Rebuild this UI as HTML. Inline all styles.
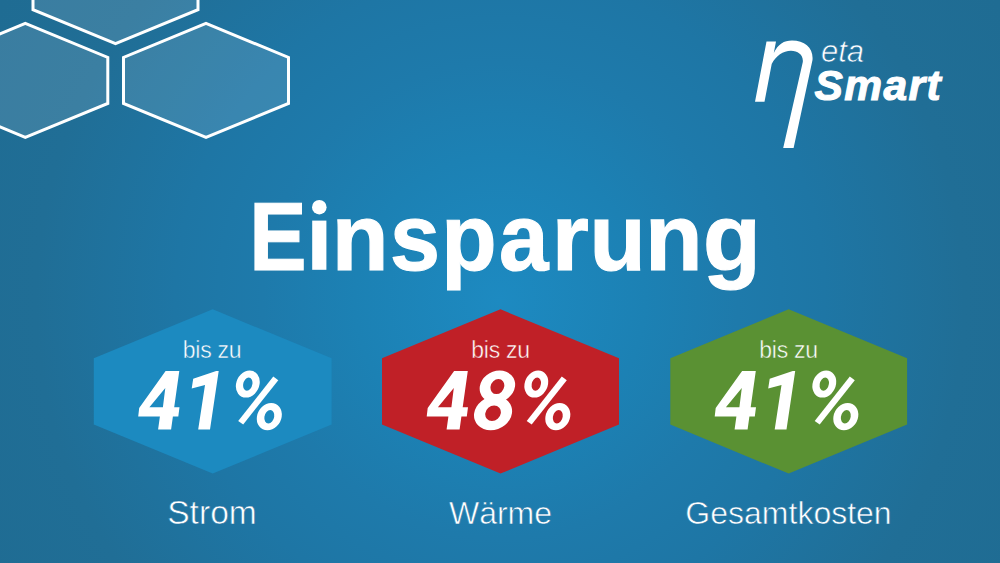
<!DOCTYPE html>
<html><head><meta charset="utf-8">
<style>
html,body{margin:0;padding:0;width:1000px;height:563px;overflow:hidden;}
body{background:radial-gradient(circle 580px at 500px 300px,#1d8ac1 0%,#1c81b4 25%,#1e7aab 41%,#1e76a5 56%,#206e96 80%,#1f6c93 100%);}
svg{display:block;position:absolute;left:0;top:0;}
</style></head>
<body>
<svg width="1000" height="563" viewBox="0 0 1000 563">
  <!-- top-left hexagons -->
  <g fill="rgba(255,255,255,0.12)" stroke="#fff" stroke-width="3" stroke-linejoin="miter">
    <polygon points="115.5,-70.3 198,-36.3 198,9.7 115.5,43.7 33,9.7 33,-36.3"/>
    <polygon points="25.3,23.4 107.8,57.4 107.8,103.4 25.3,137.4 -57.2,103.4 -57.2,57.4"/>
    <polygon points="206,23.4 288.5,57.4 288.5,103.4 206,137.4 123.5,103.4 123.5,57.4"/>
  </g>
  <!-- logo -->
  <g fill="#fff">
    <path d="M766.5,41.6 L776,41.6 L764.5,101.7 L755,101.7 Z M773.8,53 C778,44 784,40.4 792,40.4 C805,40.4 813.5,48 812.5,60 L793.6,147.9 L783.2,147.9 L802.8,62 C803.5,55 798,50.8 791,50.8 C783,50.8 776,56 771.7,64 Z"/>
    <text x="821" y="62" font-family="Liberation Sans" font-size="31" font-style="italic" stroke="#1f73a2" stroke-width="0.65">eta</text>
    <text x="814.5" y="99.6" font-family="Liberation Sans" font-size="42.5" font-weight="bold" font-style="italic" letter-spacing="1.4" stroke="#fff" stroke-width="1.1">Smart</text>
  </g>
  <!-- title -->
  <g fill="#fff" stroke="#fff" stroke-width="1.2" font-family="Liberation Sans" font-weight="bold" font-size="97" text-anchor="middle">
    <text transform="translate(277.8,269.8) scale(0.885,1)">E</text>
    <text transform="translate(360.2,269.8) scale(0.958,0.968)">n</text>
    <text transform="translate(415.0,269.8) scale(0.928,0.968)">s</text>
    <text transform="translate(468.8,269.8) scale(0.934,0.968)">p</text>
    <text transform="translate(523.7,269.8) scale(0.917,0.968)">a</text>
    <text transform="translate(570.3,269.8) scale(0.981,0.968)">r</text>
    <text transform="translate(617.7,269.8) scale(0.948,0.968)">u</text>
    <text transform="translate(673.7,269.8) scale(0.973,0.968)">n</text>
    <text transform="translate(732.0,269.8) scale(0.975,0.968)">g</text>
  </g>
  <rect x="312.2" y="220.6" width="14.2" height="49.2" fill="#fff"/>
  <circle cx="319.3" cy="207.2" r="7.3" fill="#fff"/>
  <!-- hexes -->
  <polygon points="212.7,309.3 331.6,358.3 331.6,424.6 212.7,473.6 93.8,424.6 93.8,358.3" fill="#1c8ac0"/>
  <polygon points="500.5,309.3 619,358.3 619,424.6 500.5,473.6 382,424.6 382,358.3" fill="#c02027"/>
  <polygon points="788.7,309.3 907.1,358.3 907.1,424.6 788.7,473.6 670.3,424.6 670.3,358.3" fill="#5a9133"/>
  <g fill="#fff" font-family="Liberation Sans" text-anchor="middle">
    <text x="212" y="357.5" font-size="23" letter-spacing="-0.3" stroke="#1c8ac0" stroke-width="0.45">bis zu</text>
    <text x="500.5" y="357.5" font-size="23" letter-spacing="-0.3" stroke="#c02027" stroke-width="0.45">bis zu</text>
    <text x="788.5" y="357.5" font-size="23" letter-spacing="-0.3" stroke="#5a9133" stroke-width="0.45">bis zu</text>
    <text x="212" y="523.6" font-size="33.6" stroke="#1e75a4" stroke-width="0.6">Strom</text>
    <text x="500.5" y="523.8" font-size="32" stroke="#1e7aab" stroke-width="0.6">Wärme</text>
    <text x="788.5" y="523.8" font-size="32" stroke="#1e75a4" stroke-width="0.6">Gesamtkosten</text>
  </g>
  <g fill="#fff">
    <g transform="translate(138.2,0)"><path d="M27.4,371 L41.1,371 L36.0,407.3 L41.3,407.3 L40.1,416.6 L34.7,416.6 L32.9,429.4 L19.9,429.4 L21.7,416.6 L0,416.6 L1.0,407.9 Z M27.1,388 L11.2,407.3 L24.7,407.3 Z" fill-rule="evenodd"/></g>
    <g transform="translate(138.2,0)"><path d="M80.5,371 L78,371 L55,378.7 L53.5,388.6 L66.8,384.9 L60,429.4 L71.8,429.4 Z"/></g>
    <g transform="translate(138.2,0)"><path transform="translate(109.6,384.1) skewX(-8)" fill-rule="evenodd" d="M-11.8,0 A11.8,13.5 0 1 0 11.8,0 A11.8,13.5 0 1 0 -11.8,0 Z M-4.6,0 A4.6,6.6 0 1 0 4.6,0 A4.6,6.6 0 1 0 -4.6,0 Z"/>
      <path transform="translate(131.1,416.7) skewX(-8)" fill-rule="evenodd" d="M-12.4,0 A12.4,13.6 0 1 0 12.4,0 A12.4,13.6 0 1 0 -12.4,0 Z M-4.9,0 A4.9,6.8 0 1 0 4.9,0 A4.9,6.8 0 1 0 -4.9,0 Z"/>
      <path d="M135.1,376.4 L140.1,380.2 L105,424.5 L100,421 Z"/></g>
    <g transform="translate(426.7,0)"><path d="M27.4,371 L41.1,371 L36.0,407.3 L41.3,407.3 L40.1,416.6 L34.7,416.6 L32.9,429.4 L19.9,429.4 L21.7,416.6 L0,416.6 L1.0,407.9 Z M27.1,388 L11.2,407.3 L24.7,407.3 Z" fill-rule="evenodd"/></g>
    <g transform="translate(426.2,0)"><path transform="translate(71.2,386.6) skewX(-8)" fill-rule="evenodd" d="M-17.6,0 A17.6,16 0 1 0 17.6,0 A17.6,16 0 1 0 -17.6,0 Z M-6.85,0 A6.85,7.5 0 1 0 6.85,0 A6.85,7.5 0 1 0 -6.85,0 Z"/>
      <path transform="translate(66.85,413.3) skewX(-8)" fill-rule="evenodd" d="M-18.9,0 A18.9,17 0 1 0 18.9,0 A18.9,17 0 1 0 -18.9,0 Z M-7.75,0 A7.75,7.75 0 1 0 7.75,0 A7.75,7.75 0 1 0 -7.75,0 Z"/></g>
    <g transform="translate(426.7,0)"><path transform="translate(109.6,384.1) skewX(-8)" fill-rule="evenodd" d="M-11.8,0 A11.8,13.5 0 1 0 11.8,0 A11.8,13.5 0 1 0 -11.8,0 Z M-4.6,0 A4.6,6.6 0 1 0 4.6,0 A4.6,6.6 0 1 0 -4.6,0 Z"/>
      <path transform="translate(131.1,416.7) skewX(-8)" fill-rule="evenodd" d="M-12.4,0 A12.4,13.6 0 1 0 12.4,0 A12.4,13.6 0 1 0 -12.4,0 Z M-4.9,0 A4.9,6.8 0 1 0 4.9,0 A4.9,6.8 0 1 0 -4.9,0 Z"/>
      <path d="M135.1,376.4 L140.1,380.2 L105,424.5 L100,421 Z"/></g>
    <g transform="translate(714.7,0)"><path d="M27.4,371 L41.1,371 L36.0,407.3 L41.3,407.3 L40.1,416.6 L34.7,416.6 L32.9,429.4 L19.9,429.4 L21.7,416.6 L0,416.6 L1.0,407.9 Z M27.1,388 L11.2,407.3 L24.7,407.3 Z" fill-rule="evenodd"/></g>
    <g transform="translate(714.7,0)"><path d="M80.5,371 L78,371 L55,378.7 L53.5,388.6 L66.8,384.9 L60,429.4 L71.8,429.4 Z"/></g>
    <g transform="translate(714.7,0)"><path transform="translate(109.6,384.1) skewX(-8)" fill-rule="evenodd" d="M-11.8,0 A11.8,13.5 0 1 0 11.8,0 A11.8,13.5 0 1 0 -11.8,0 Z M-4.6,0 A4.6,6.6 0 1 0 4.6,0 A4.6,6.6 0 1 0 -4.6,0 Z"/>
      <path transform="translate(131.1,416.7) skewX(-8)" fill-rule="evenodd" d="M-12.4,0 A12.4,13.6 0 1 0 12.4,0 A12.4,13.6 0 1 0 -12.4,0 Z M-4.9,0 A4.9,6.8 0 1 0 4.9,0 A4.9,6.8 0 1 0 -4.9,0 Z"/>
      <path d="M135.1,376.4 L140.1,380.2 L105,424.5 L100,421 Z"/></g>
  </g>
</svg>
</body></html>
